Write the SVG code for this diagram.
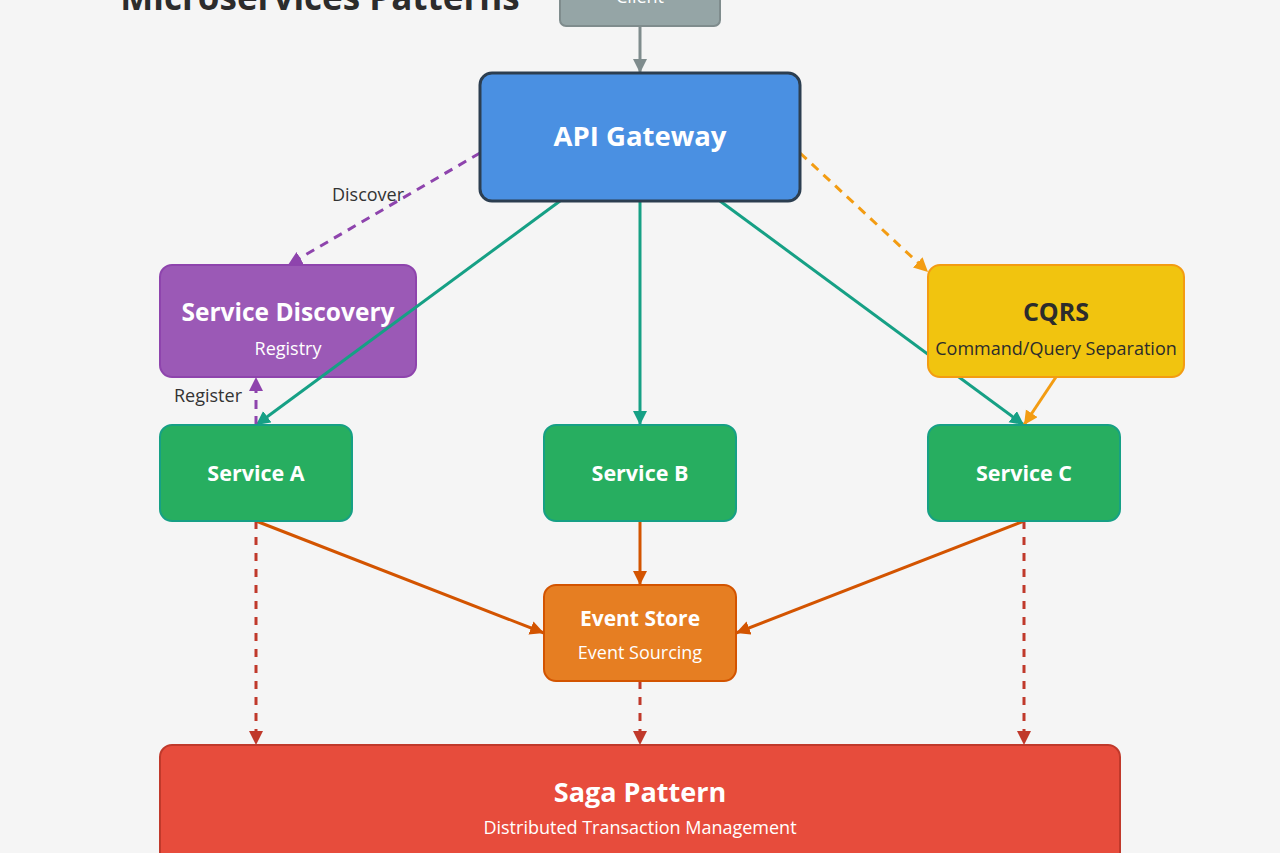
<svg xmlns="http://www.w3.org/2000/svg" width="1280" height="853" viewBox="0 0 1280 853">
<defs>
<style>
text{font-family:"Open Sans","Noto Sans","DejaVu Sans",sans-serif;text-anchor:middle}
.t{font-weight:bold;fill:#fff}
.s{font-size:18px;fill:#fff}
.lbl{font-size:18px;fill:#333}
.box{stroke-width:2}
.c{fill:none;stroke-width:3}
.teal{stroke:#16a085}
.ora{stroke:#d35400}
.red{stroke:#c0392b;stroke-dasharray:8,8}
.pur{stroke:#8e44ad;stroke-dasharray:9,7}
.yel{stroke:#f39c12}
.dash{stroke-dasharray:9,7}
</style>
<marker id="mGray" markerUnits="userSpaceOnUse" markerWidth="16" markerHeight="16" refX="14" refY="7" orient="auto"><path d="M0,0 L14,7 L0,14 z" fill="#7f8c8d"/></marker>
<marker id="mTeal" markerUnits="userSpaceOnUse" markerWidth="16" markerHeight="16" refX="14" refY="7" orient="auto"><path d="M0,0 L14,7 L0,14 z" fill="#16a085"/></marker>
<marker id="mOra" markerUnits="userSpaceOnUse" markerWidth="16" markerHeight="16" refX="14" refY="7" orient="auto"><path d="M0,0 L14,7 L0,14 z" fill="#d35400"/></marker>
<marker id="mRed" markerUnits="userSpaceOnUse" markerWidth="16" markerHeight="16" refX="14" refY="7" orient="auto"><path d="M0,0 L14,7 L0,14 z" fill="#c0392b"/></marker>
<marker id="mPur" markerUnits="userSpaceOnUse" markerWidth="16" markerHeight="16" refX="14" refY="7" orient="auto"><path d="M0,0 L14,7 L0,14 z" fill="#8e44ad"/></marker>
<marker id="mYel" markerUnits="userSpaceOnUse" markerWidth="16" markerHeight="16" refX="14" refY="7" orient="auto"><path d="M0,0 L14,7 L0,14 z" fill="#f39c12"/></marker>
</defs>
<rect width="1280" height="853" fill="#f5f5f5"/>
<text x="320" y="10" style="font-size:35px;font-weight:bold;fill:#2c2c2c">Microservices Patterns</text>

<g id="service-discovery">
<rect class="box" x="160" y="265" width="256" height="112" rx="12" fill="#9b59b6" stroke="#8e44ad"/>
<text class="t" x="288" y="321" style="font-size:24.5px">Service Discovery</text>
<text class="s" x="288" y="355">Registry</text>
</g>

<g id="connectors">
<line class="c" x1="640" y1="26" x2="640" y2="73" stroke="#7f8c8d" marker-end="url(#mGray)"/>
<line class="c teal" x1="560" y1="201" x2="256" y2="425" marker-end="url(#mTeal)"/>
<line class="c teal" x1="640" y1="201" x2="640" y2="425" marker-end="url(#mTeal)"/>
<line class="c teal" x1="720" y1="201" x2="1024" y2="425" marker-end="url(#mTeal)"/>
<line class="c pur" x1="480" y1="153" x2="288" y2="265" marker-end="url(#mPur)"/>
<text class="lbl" x="368" y="201">Discover</text>
<line class="c yel dash" x1="800" y1="153" x2="928" y2="272" marker-end="url(#mYel)"/>
<line class="c pur" x1="256" y1="425" x2="256" y2="377" marker-end="url(#mPur)"/>
<text class="lbl" x="242" y="402" style="text-anchor:end">Register</text>
<line class="c yel" x1="1056" y1="377" x2="1024" y2="425" marker-end="url(#mYel)"/>
<line class="c ora" x1="256" y1="521" x2="544" y2="633" marker-end="url(#mOra)"/>
<line class="c ora" x1="640" y1="521" x2="640" y2="585" marker-end="url(#mOra)"/>
<line class="c ora" x1="1024" y1="521" x2="736" y2="633" marker-end="url(#mOra)"/>
<line class="c red" x1="256" y1="521" x2="256" y2="745" marker-end="url(#mRed)"/>
<line class="c red" x1="640" y1="681" x2="640" y2="745" marker-end="url(#mRed)"/>
<line class="c red" x1="1024" y1="521" x2="1024" y2="745" marker-end="url(#mRed)"/>
</g>

<g id="client">
<rect class="box" x="560" y="-40" width="160" height="66" rx="6" fill="#95a5a6" stroke="#7f8c8d"/>
<text class="s" x="640" y="3">Client</text>
</g>
<g id="api-gateway">
<rect x="480" y="73" width="320" height="128" rx="12" fill="#4a90e2" stroke="#2c3e50" stroke-width="3"/>
<text class="t" x="640" y="146" style="font-size:27.5px">API Gateway</text>
</g>
<g id="cqrs">
<rect class="box" x="928" y="265" width="256" height="112" rx="12" fill="#f1c40f" stroke="#f39c12"/>
<text x="1056" y="321" style="font-size:25px;font-weight:bold;fill:#2c2c2c">CQRS</text>
<text x="1056" y="355" style="font-size:18px;fill:#2c2c2c">Command/Query Separation</text>
</g>
<g id="service-a">
<rect class="box" x="160" y="425" width="192" height="96" rx="12" fill="#27ae60" stroke="#16a085"/>
<text class="t" x="256" y="481" style="font-size:21.5px">Service A</text>
</g>
<g id="service-b">
<rect class="box" x="544" y="425" width="192" height="96" rx="12" fill="#27ae60" stroke="#16a085"/>
<text class="t" x="640" y="481" style="font-size:21.5px">Service B</text>
</g>
<g id="service-c">
<rect class="box" x="928" y="425" width="192" height="96" rx="12" fill="#27ae60" stroke="#16a085"/>
<text class="t" x="1024" y="481" style="font-size:21.5px">Service C</text>
</g>
<g id="event-store">
<rect class="box" x="544" y="585" width="192" height="96" rx="12" fill="#e67e22" stroke="#d35400"/>
<text class="t" x="640" y="626" style="font-size:21px">Event Store</text>
<text class="s" x="640" y="659">Event Sourcing</text>
</g>
<g id="saga">
<rect class="box" x="160" y="745" width="960" height="140" rx="12" fill="#e74c3c" stroke="#c0392b"/>
<text class="t" x="640" y="802" style="font-size:27px">Saga Pattern</text>
<text class="s" x="640" y="834">Distributed Transaction Management</text>
</g>
</svg>
